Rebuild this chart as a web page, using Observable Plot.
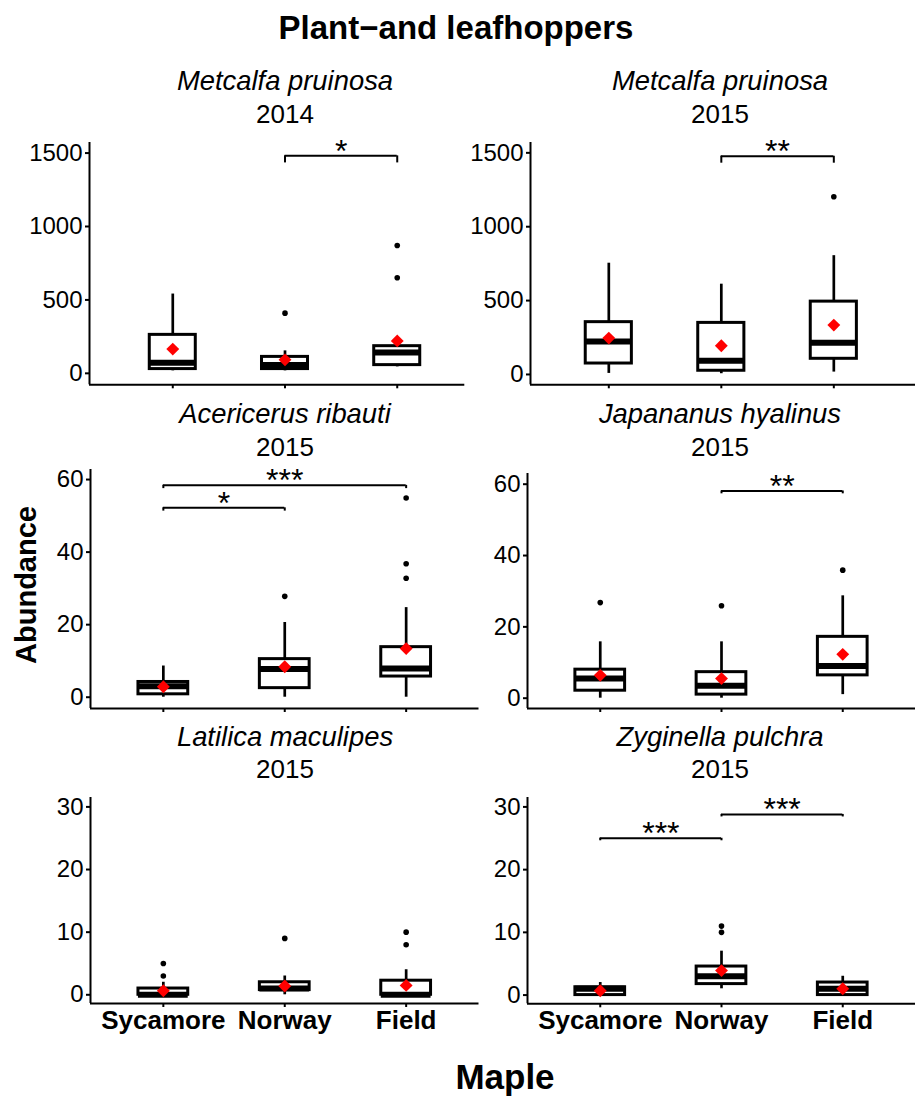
<!DOCTYPE html>
<html><head><meta charset="utf-8">
<script src="https://cdn.jsdelivr.net/npm/d3@7"></script>
<script src="https://cdn.jsdelivr.net/npm/@observablehq/plot@0.6"></script>
<style>
body{margin:0;background:#fff;}
#root{position:relative;width:916px;height:1098px;overflow:hidden;font-family:"Liberation Sans",Arial,sans-serif;background:#fff;}
#root > svg{position:absolute;}
</style></head><body><div id="root"></div>
<script>
// ---------- data ----------
const categories = ["Sycamore", "Norway", "Field"];
const mainTitle = "Plant\u2212and leafhoppers";
const species = ["Metcalfa pruinosa", "Metcalfa pruinosa", "Acericerus ribauti", "Japananus hyalinus", "Latilica maculipes", "Zyginella pulchra"];
const years = ["2014", "2015", "2015", "2015", "2015", "2015"];
const yTitle = "Abundance";
const xTitle = "Maple";

// five-number summaries per category: [lower whisker, Q1, median, Q3, upper whisker]
const boxes1 = [[17, 29, 72, 262, 540], [17, 29, 56, 112, 153], [44, 56, 142, 185, 235]];
const boxes2 = [[7, 74, 223, 354, 753], [5, 25, 93, 349, 611], [16, 106, 214, 493, 804]];
const boxes3 = [[0, 0.8, 3, 4.2, 8.6], [0, 2.5, 7.8, 10.5, 20.6], [0, 5.7, 7.9, 13.8, 24.7]];
const boxes4 = [[0, 2.1, 5.5, 8.0, 15.8], [0, 1.0, 3.5, 7.3, 15.8], [1.0, 6.4, 9.0, 17.2, 28.7]];
const boxes5 = [[0, 0, 0, 1, 2], [0, 0.75, 1, 2, 3], [0, 0, 0, 2.25, 4]];
const boxes6 = [[0, 0, 1, 1.25, 2], [1, 1.75, 3, 4.55, 7], [0, 0, 1, 2, 3]];

// means per category
const means1 = [165, 92, 221];
const means2 = [246, 194, 334];
const means3 = [2.9, 8.4, 13.4];
const means4 = [6.4, 5.5, 12.3];
const means5 = [0.64, 1.4, 1.5];
const means6 = [0.7, 3.9, 1.0];

// outliers per category
const outliers1 = [[], [410], [651, 871]];
const outliers2 = [[], [], [1203]];
const outliers3 = [[], [27.8], [32.8, 36.8, 54.9]];
const outliers4 = [[26.8], [25.9], [35.9]];
const outliers5 = [[3, 5], [9], [8, 10]];
const outliers6 = [[], [10, 11], []];

// significance brackets: [from, to, y position, label]
const sig1 = [["Norway", "Field", 1481, "*"]];
const sig2 = [["Norway", "Field", 1477, "**"]];
const sig3 = [["Sycamore", "Field", 58.4, "***"], ["Sycamore", "Norway", 52.2, "*"]];
const sig4 = [["Norway", "Field", 58.1, "**"]];
const sig5 = [];
const sig6 = [["Sycamore", "Norway", 25.0, "***"], ["Norway", "Field", 28.8, "***"]];

// y tick values
const ticksTop = [0, 500, 1000, 1500];
const ticksMid = [0, 20, 40, 60];
const ticksBot = [0, 10, 20, 30];

// ---------- layout (pixels / scale domains) ----------
const layout = [
  {boxes: boxes1, means: means1, out: outliers1, sig: sig1, ticks: ticksTop, fl: 89, fr: 464.3, ft: 141.7, fb: 384, xd: [0.258, 3.602], yd: [-78, 1572], tip: 48, bottomRow: false},
  {boxes: boxes2, means: means2, out: outliers2, sig: sig2, ticks: ticksTop, fl: 530, fr: 915, ft: 141.7, fb: 384, xd: [0.304, 3.726], yd: [-70, 1570], tip: 47, bottomRow: false},
  {boxes: boxes3, means: means3, out: outliers3, sig: sig3, ticks: ticksMid, fl: 89.5, fr: 478, ft: 469.3, fb: 708.3, xd: [0.4, 3.6], yd: [-3.11, 62.77], tip: 0.9, bottomRow: false},
  {boxes: boxes4, means: means4, out: outliers4, sig: sig4, ticks: ticksMid, fl: 527, fr: 915, ft: 473.3, fb: 708.3, xd: [0.4, 3.6], yd: [-2.89, 63.0], tip: 0.8, bottomRow: false},
  {boxes: boxes5, means: means5, out: outliers5, sig: sig5, ticks: ticksBot, fl: 89.5, fr: 478, ft: 796.7, fb: 1002.7, xd: [0.4, 3.6], yd: [-1.39, 31.5], tip: 0.4, bottomRow: true},
  {boxes: boxes6, means: means6, out: outliers6, sig: sig6, ticks: ticksBot, fl: 527, fr: 915, ft: 796.7, fb: 1003, xd: [0.4, 3.6], yd: [-1.39, 31.5], tip: 0.4, bottomRow: true}
];

const FONT = "'Liberation Sans', Arial, Helvetica, sans-serif";
const HALF = 0.205; // half box width in category units
const root = document.getElementById("root");

function makePanel(cfg) {
  const mL = 90, mR = 4, mT = 4, mB = cfg.bottomRow ? 50 : 12;
  const fw = cfg.fr - cfg.fl, fh = cfg.fb - cfg.ft;
  const W = fw + mL + mR, H = fh + mT + mB;
  const idx = c => categories.indexOf(c) + 1;
  const boxData = cfg.boxes.map((b, i) => ({i: i + 1, lo: b[0], q1: b[1], med: b[2], q3: b[3], hi: b[4]}));
  const meanData = cfg.means.map((v, i) => ({i: i + 1, v}));
  const outData = cfg.out.flatMap((arr, i) => arr.map(v => ({i: i + 1, v})));
  const sigData = cfg.sig.map(s => ({a: idx(s[0]), b: idx(s[1]), y: s[2], label: s[3]}));
  const tipData = sigData.flatMap(s => [{x: s.a, y: s.y}, {x: s.b, y: s.y}]);
  const svg = Plot.plot({
    width: W, height: H,
    marginLeft: mL, marginRight: mR, marginTop: mT, marginBottom: mB,
    style: {fontFamily: FONT, color: "#000", background: "transparent", overflow: "visible"},
    x: {type: "linear", domain: cfg.xd},
    y: {type: "linear", domain: cfg.yd},
    marks: [
      Plot.axisY({ticks: cfg.ticks, tickSize: 4, tickPadding: 3, fontSize: 24, strokeWidth: 2, tickFormat: d => String(d), label: null}),
      Plot.axisX({ticks: [1, 2, 3], tickSize: 4, tickPadding: 3, fontSize: 26, fontWeight: "bold", strokeWidth: 2,
        tickFormat: d => cfg.bottomRow ? categories[d - 1] : "", label: null}),
      Plot.ruleY([cfg.yd[0]], {stroke: "#000", strokeWidth: 2}),
      Plot.ruleX([cfg.xd[0]], {stroke: "#000", strokeWidth: 2}),
      Plot.ruleX(boxData, {x: "i", y1: "lo", y2: "hi", stroke: "#000", strokeWidth: 2.7}),
      Plot.rect(boxData, {x1: d => d.i - HALF, x2: d => d.i + HALF, y1: "q1", y2: "q3", fill: "#fff", stroke: "#000", strokeWidth: 3}),
      Plot.ruleY(boxData, {x1: d => d.i - HALF, x2: d => d.i + HALF, y: "med", stroke: "#000", strokeWidth: 6}),
      Plot.dot(outData, {x: "i", y: "v", r: 2.8, fill: "#000", stroke: null}),
      Plot.dot(meanData, {x: "i", y: "v", symbol: "diamond2", r: 5.8, fill: "#ff0000", stroke: null}),
      Plot.ruleY(sigData, {x1: "a", x2: "b", y: "y", stroke: "#000", strokeWidth: 2}),
      Plot.ruleX(tipData, {x: "x", y1: d => d.y - cfg.tip, y2: "y", stroke: "#000", strokeWidth: 2}),
      Plot.text(sigData, {x: d => (d.a + d.b) / 2, y: "y", text: "label", fontSize: 32, lineAnchor: "bottom", dy: 6, fill: "#000"})
    ]
  });
  svg.style.left = (cfg.fl - mL) + "px";
  svg.style.top = (cfg.ft - mT) + "px";
  root.appendChild(svg);
}
layout.forEach(makePanel);

// ---------- surrounding text ----------
const ns = "http://www.w3.org/2000/svg";
const over = document.createElementNS(ns, "svg");
over.setAttribute("width", 916); over.setAttribute("height", 1098);
over.style.left = "0px"; over.style.top = "0px"; over.style.pointerEvents = "none";
root.insertBefore(over, root.firstChild);
function txt(s, x, y, size, opts = {}) {
  const t = document.createElementNS(ns, "text");
  t.textContent = s;
  t.setAttribute("x", x); t.setAttribute("y", y);
  t.setAttribute("text-anchor", "middle");
  t.setAttribute("font-family", FONT);
  t.setAttribute("font-size", size);
  if (opts.weight) t.setAttribute("font-weight", opts.weight);
  if (opts.style) t.setAttribute("font-style", opts.style);
  if (opts.rotate) t.setAttribute("transform", `rotate(${opts.rotate} ${x} ${y})`);
  t.setAttribute("fill", "#000");
  over.appendChild(t);
}
txt(mainTitle, 456, 39, 33, {weight: "bold"});
const colX = [285, 720];
const rowY = [[89.5, 122.5], [422.5, 455.5], [745.5, 777.5]];
species.forEach((s, k) => {
  const c = k % 2, r = Math.floor(k / 2);
  txt(s, colX[c], rowY[r][0], 27.4, {style: "italic"});
  txt(years[k], colX[c], rowY[r][1], 26);
});
txt(yTitle, 36, 585, 29, {weight: "bold", rotate: -90});
txt(xTitle, 505, 1089, 35, {weight: "bold"});
</script></body></html>
